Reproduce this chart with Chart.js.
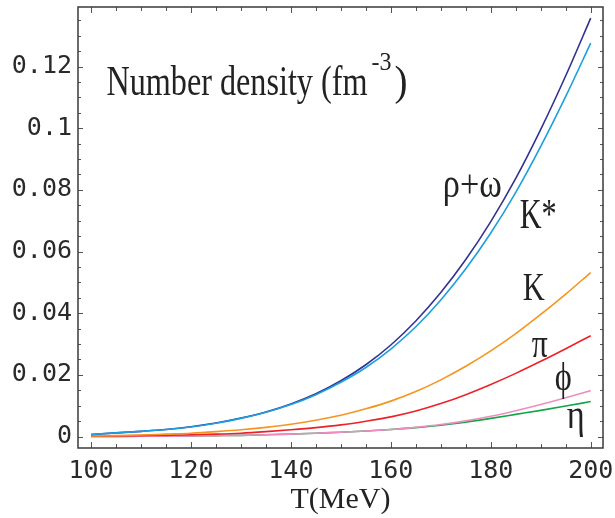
<!DOCTYPE html>
<html>
<head>
<meta charset="utf-8">
<script src="https://cdn.jsdelivr.net/npm/chart.js@4"></script>
<style>
	body { margin: 0; background: #fff; }
	#wrap { width: 615px; height: 518px; }
</style>
</head>
<body>
<div id="wrap"><canvas id="densityChart" width="615" height="518"></canvas></div>
<script>
"use strict";
// temperature (MeV)
const temps = [100, 105, 110, 115, 120, 125, 130, 135, 140, 145, 150, 155, 160, 165, 170, 175, 180, 185, 190, 195, 200];

// number densities (fm^-3)
const rhoOmega = [0.0007, 0.0012, 0.0017, 0.0023, 0.0032, 0.0044, 0.0060, 0.0080, 0.0106, 0.0139, 0.0181, 0.0233, 0.0297, 0.0375, 0.0467, 0.0574, 0.0697, 0.0837, 0.0996, 0.1170, 0.1357];
const kStar = [0.0007, 0.0012, 0.0017, 0.0023, 0.0031, 0.0043, 0.0059, 0.0079, 0.0104, 0.0136, 0.0176, 0.0224, 0.0284, 0.0356, 0.0443, 0.0544, 0.0660, 0.0792, 0.0941, 0.1103, 0.1276];
const kaon = [0.0002, 0.0003, 0.0005, 0.0008, 0.0011, 0.0016, 0.0022, 0.0030, 0.0040, 0.0053, 0.0069, 0.0090, 0.0115, 0.0146, 0.0184, 0.0228, 0.0278, 0.0334, 0.0396, 0.0462, 0.0532];
const pion = [0.0001, 0.0002, 0.0003, 0.0004, 0.0006, 0.0008, 0.0011, 0.0016, 0.0022, 0.0029, 0.0038, 0.0050, 0.0064, 0.0083, 0.0107, 0.0136, 0.0169, 0.0205, 0.0244, 0.0285, 0.0327];
const phiMeson = [0.00005, 0.00007, 0.0001, 0.00015, 0.0002, 0.0003, 0.0004, 0.0006, 0.0008, 0.0011, 0.0014, 0.0018, 0.0023, 0.0030, 0.0039, 0.0051, 0.0066, 0.0084, 0.0104, 0.0126, 0.0149];
const eta = [0.00005, 0.00007, 0.0001, 0.00015, 0.0002, 0.0003, 0.0004, 0.0006, 0.0008, 0.0011, 0.0014, 0.0018, 0.0023, 0.0029, 0.0037, 0.0047, 0.0059, 0.0072, 0.0085, 0.0099, 0.01135];

const xTicks = [100, 120, 140, 160, 180, 200];
const yTicks = [0, 0.02, 0.04, 0.06, 0.08, 0.1, 0.12];
const yTickLabels = ["0", "0.02", "0.04", "0.06", "0.08", "0.1", "0.12"];

const toPoints = (arr) => temps.map((t, i) => ({ x: t, y: arr[i] }));

const makeLine = (data, color) => ({
	data: toPoints(data),
	borderColor: color,
	borderWidth: 1.6,
	pointRadius: 0,
	fill: false,
	cubicInterpolationMode: "monotone",
});

// curve labels: text, position in data units, font size, drawn width
const curveLabels = [
	{ text: "ρ+ω", t: 170.4, n: 0.0778, size: 40, w: 59 },
	{ text: "K*", t: 185.8, n: 0.0676, size: 42, w: 37 },
	{ text: "K", t: 186.4, n: 0.0443, size: 41, w: 22 },
	{ text: "π", t: 188.2, n: 0.0259, size: 40, w: 16 },
	{ text: "ϕ", t: 192.8, n: 0.0151, size: 40, w: 17 },
	{ text: "η", t: 195.2, n: 0.0027, size: 40, w: 18 },
];

const drawSqueezed = (ctx, text, x, y, size, w) => {
	ctx.font = `${size}px "Liberation Serif"`;
	const sx = w / ctx.measureText(text).width;
	ctx.save();
	ctx.translate(x, y);
	ctx.scale(sx, 1);
	ctx.fillText(text, 0, 0);
	ctx.restore();
	return w;
};

const framePlugin = {
	id: "framePlugin",
	afterDatasetsDraw(chart) {
		const { ctx, chartArea: a, scales } = chart;
		ctx.save();

		// inward ticks on all four sides
		ctx.strokeStyle = "#555";
		ctx.lineWidth = 1;
		ctx.beginPath();
		for (let t = 100; t <= 200; t += 5) {
			const px = Math.round(scales.x.getPixelForValue(t)) + 0.5;
			const len = t % 20 === 0 ? 6 : 4;
			ctx.moveTo(px, a.bottom);
			ctx.lineTo(px, a.bottom - len);
			ctx.moveTo(px, a.top);
			ctx.lineTo(px, a.top + len);
		}
		for (let k = 0; k <= 27; k++) {
			const py = Math.round(scales.y.getPixelForValue(k * 0.005)) + 0.5;
			const len = k % 4 === 0 ? 5 : 3;
			ctx.moveTo(a.left, py);
			ctx.lineTo(a.left + len, py);
			ctx.moveTo(a.right, py);
			ctx.lineTo(a.right - len, py);
		}
		ctx.stroke();

		// frame
		ctx.strokeStyle = "#3a3a3a";
		ctx.lineWidth = 1.5;
		ctx.strokeRect(a.left, a.top, a.right - a.left, a.bottom - a.top);

		// text
		ctx.fillStyle = "#222";
		ctx.textAlign = "left";
		ctx.textBaseline = "alphabetic";
		curveLabels.forEach((l) => {
			drawSqueezed(ctx, l.text, scales.x.getPixelForValue(l.t), scales.y.getPixelForValue(l.n), l.size, l.w);
		});

		const tx = scales.x.getPixelForValue(103.1);
		const ty = scales.y.getPixelForValue(0.1108);
		let x = tx + drawSqueezed(ctx, "Number density (fm", tx, ty, 42, 261);
		x += 4;
		x += drawSqueezed(ctx, "-3", x, ty - 25, 26, 20);
		drawSqueezed(ctx, ")", x + 3, ty, 42, 13);

		ctx.restore();
	},
};

const ctx = document.getElementById("densityChart").getContext("2d");
const densityChart = new Chart(ctx, {
	type: "line",
	data: {
		datasets: [
			makeLine(kStar, "#1c9fe0"),
			makeLine(rhoOmega, "#323291"),
			makeLine(kaon, "#f7941d"),
			makeLine(pion, "#ec2229"),
			makeLine(phiMeson, "#ef8dc0"),
			makeLine(eta, "#14a548"),
		],
	},
	options: {
		responsive: false,
		animation: false,
		events: [],
		layout: { padding: { top: 7, right: 12, left: 0, bottom: 0 } },
		plugins: {
			legend: { display: false },
			tooltip: { enabled: false },
		},
		scales: {
			x: {
				type: "linear",
				min: 97.4,
				max: 202.46,
				afterBuildTicks: (scale) => {
					scale.ticks = xTicks.map((v) => ({ value: v }));
				},
				afterFit: (scale) => {
					scale.height = 70;
					scale.paddingLeft = 0;
					scale.paddingRight = 0;
				},
				grid: { display: false, drawTicks: false },
				border: { display: false },
				ticks: {
					autoSkip: false,
					maxRotation: 0,
					padding: 8,
					color: "#2a2a2a",
					font: { family: "DejaVu Sans Mono", size: 25 },
				},
				title: {
					display: true,
					text: "T(MeV)",
					color: "#222",
					font: { family: "Liberation Serif", size: 30 },
					padding: { top: 0, bottom: 0 },
				},
			},
			y: {
				type: "linear",
				min: -0.0037,
				max: 0.1393,
				afterBuildTicks: (scale) => {
					scale.ticks = yTicks.map((v) => ({ value: v }));
				},
				afterFit: (scale) => {
					scale.width = 78;
					scale.paddingTop = 0;
					scale.paddingBottom = 0;
				},
				grid: { display: false, drawTicks: false },
				border: { display: false },
				ticks: {
					autoSkip: false,
					padding: 6,
					color: "#2a2a2a",
					font: { family: "DejaVu Sans Mono", size: 25 },
					callback: (value, index) => yTickLabels[index],
				},
			},
		},
	},
	plugins: [framePlugin],
});
</script>
</body>
</html>
